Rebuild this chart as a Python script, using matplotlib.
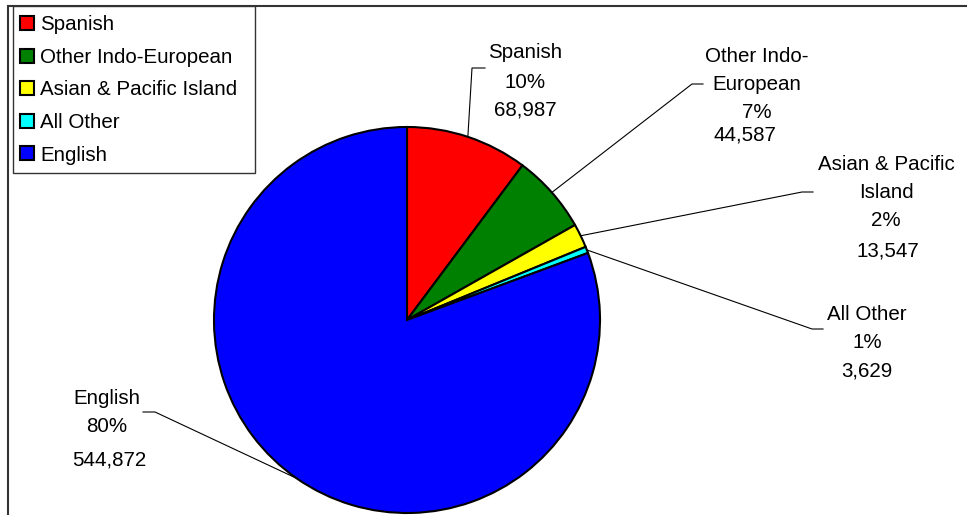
import numpy as np
import matplotlib.pyplot as plt
from matplotlib.patches import Rectangle

plt.rcParams['font.family'] = ['Liberation Sans', 'DejaVu Sans']

# ------------------------------------------------------------
# data
# ------------------------------------------------------------
categories = ["Spanish", "Other Indo-European", "Asian & Pacific Island",
              "All Other", "English"]
values = [68987, 44587, 13547, 3629, 544872]
pct_labels = ["10%", "7%", "2%", "1%", "80%"]
wrapped_names = [["Spanish"], ["Other Indo-", "European"],
                 ["Asian & Pacific", "Island"], ["All Other"], ["English"]]
colors = ["#FF0000", "#008000", "#FFFF00", "#00FFFF", "#0000FF"]

# ------------------------------------------------------------
# layout (pixel units, y measured from top)
# ------------------------------------------------------------
W, H = 967, 515
cx, cy, r = 407, 320, 193

def Y(yp):
    return H - yp

# label anchor x, first line y, value x, value y
label_pos = [
    (525, 53, 525, 110),
    (757, 57, 745, 135),
    (886, 164, 888, 251),
    (867, 314, 867, 371),
    (107, 398, 109, 460),
]
line_step = [29, 28, 28, 28, 29]
# leader elbows: (elbow, end)
elbows = [
    ((472, 68), (485, 68)),
    ((692, 84), (703, 84)),
    ((802, 192), (813, 192)),
    ((812, 329), (823, 329)),
    ((155, 412), (143, 412)),
]

fig = plt.figure(figsize=(W / 100, H / 100), dpi=100)
ax = fig.add_axes([0, 0, 1, 1])

wedges, _ = ax.pie(values, colors=colors, startangle=90, counterclock=False,
                   center=(cx, Y(cy)), radius=r, frame=True,
                   wedgeprops=dict(edgecolor="black", linewidth=1.5))

ax.set_xlim(0, W)
ax.set_ylim(0, H)
ax.set_aspect("equal")
ax.axis("off")

fs = 14.8
for i, w in enumerate(wedges):
    mid = np.deg2rad((w.theta1 + w.theta2) / 2)
    px, py = cx + r * np.cos(mid), Y(cy) + r * np.sin(mid)
    (ex, ey), (tx, ty) = elbows[i]
    ax.plot([px, ex, tx], [py, Y(ey), Y(ty)], color="black", lw=0.8)

    lx, ly, vx, vy = label_pos[i]
    lines = wrapped_names[i] + [pct_labels[i]]
    for k, txt in enumerate(lines):
        ax.text(lx, Y(ly + k * line_step[i]), txt, ha="center", va="center",
                fontsize=fs, color="black")
    ax.text(vx, Y(vy), f"{values[i]:,}", ha="center", va="center",
            fontsize=fs, color="black")

# outer chart frame (clipped at right and bottom)
ax.add_patch(Rectangle((8, -20), W + 40, Y(6) + 20, fill=False,
                       edgecolor="#333333", lw=1.5, clip_on=False))

# legend box drawn by hand, entries from the legend
ax.add_patch(Rectangle((13, Y(173)), 255 - 13, 173 - 6, facecolor="white",
                       edgecolor="#333333", lw=1.0, zorder=4))
leg = ax.legend(wedges, categories, loc="upper left",
                bbox_to_anchor=(11 / W, 1 - 6 / H), borderaxespad=0,
                fontsize=fs, frameon=False,
                handlelength=0.68, handleheight=0.68, handletextpad=0.3,
                labelspacing=0.66, borderpad=0.45)
leg.set_zorder(5)

fig.savefig("out.png", dpi=100)
